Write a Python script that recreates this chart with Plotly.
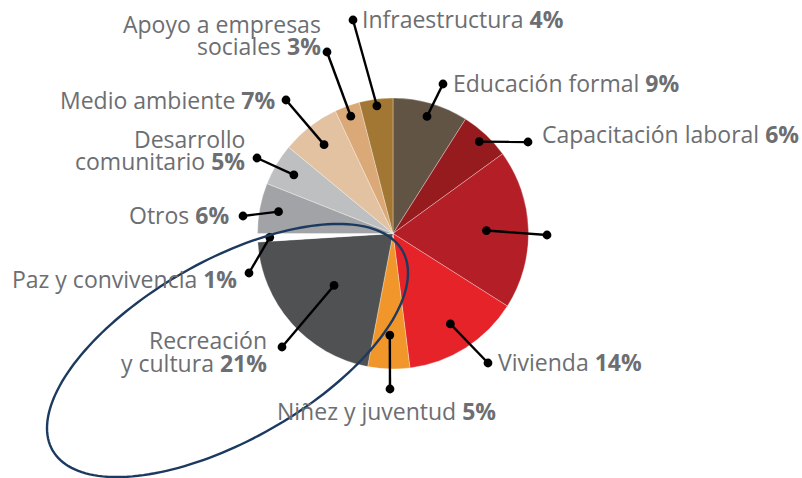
import numpy as np
import plotly.graph_objects as go

W, H = 802, 478

# ---------------- data ----------------
categories = ["Educación formal", "Capacitación laboral", "", "Vivienda",
              "Niñez y juventud", "Recreación\ny cultura", "Paz y convivencia",
              "Otros", "Desarrollo\ncomunitario", "Medio ambiente",
              "Apoyo a empresas\nsociales", "Infraestructura"]
shares = [9, 6, 19, 14, 5, 21, 1, 6, 5, 7, 3, 4]

# ---------------- style / layout ----------------
colors = ["#615444", "#961B1E", "#B41F27", "#E52329", "#F0962B", "#505153",
          "#FFFFFF", "#A1A3A6", "#BDBFC1", "#E3C2A2", "#DBA878", "#A27733"]
# pie geometry in pixels
CX, CY, R = 393.0, 233.5, 135.5
# radius fraction of the inner dot for each slice
inner_frac = [0.90, 0.93, 0.69, 0.79, 0.75, 0.58, 0.91, 0.86, 0.85, 0.83, 0.92, 0.95]
# outer dot position (px) for each slice
outer_pts = [(443, 84), (528, 142), (547, 235), (488, 363), (390, 389), (282, 347),
             (249, 273), (243, 216), (257, 158), (286, 100), (327, 52), (353, 20)]
# text anchor: (x px, y px of first line, xanchor)
text_pos = [(452, 83, "left"), (541, 134, "left"), None, (497, 362, "left"),
            (386, 411, "center"), (268, 340, "right"), (238, 279, "right"),
            (230, 215, "right"), (246, 139, "right"), (277, 100, "right"),
            (322, 24, "right"), (361, 19, "left")]
LINE_GAP = 22.5
TEXT_COLOR = "#6D6E71"
FONT = "Open Sans"
FSIZE = 23


def px(x):
    return x / W


def py(y):
    return 1 - y / H


fig = go.Figure(go.Pie(
    labels=[c.replace("\n", " ") if c else " " for c in categories],
    values=shares,
    sort=False,
    direction="clockwise",
    rotation=0,
    textinfo="none",
    hoverinfo="label+percent",
    marker=dict(colors=colors, line=dict(color="rgba(255,255,255,0.45)", width=0.7)),
    domain=dict(x=[px(CX - R), px(CX + R)], y=[py(CY + R), py(CY - R)]),
    showlegend=False,
))

shapes = []
annotations = []
total = float(sum(shares))
cum = 0.0
DOT = 4.4
for i, v in enumerate(shares):
    mid = (cum + v / 2.0) / total * 2 * np.pi
    cum += v
    r = R * inner_frac[i]
    ix, iy = CX + r * np.sin(mid), CY - r * np.cos(mid)
    ox, oy = outer_pts[i]
    shapes.append(dict(type="line", xref="paper", yref="paper",
                       x0=px(ix), y0=py(iy), x1=px(ox), y1=py(oy),
                       line=dict(color="black", width=2.4)))
    for (qx, qy) in [(ix, iy), (ox, oy)]:
        shapes.append(dict(type="circle", xref="paper", yref="paper",
                           x0=px(qx - DOT), x1=px(qx + DOT),
                           y0=py(qy - DOT), y1=py(qy + DOT),
                           fillcolor="black", line=dict(width=0)))
    if text_pos[i] is None or not categories[i]:
        continue
    tx, ty, anc = text_pos[i]
    lines = categories[i].split("\n")
    lines[-1] = f"{lines[-1]} <b>{v}%</b>"
    for k, ln in enumerate(lines):
        annotations.append(dict(xref="paper", yref="paper", x=px(tx), y=py(ty + k * LINE_GAP),
                                xanchor=anc, yanchor="middle", text=ln, showarrow=False,
                                borderpad=0, font=dict(family=FONT, size=FSIZE, color=TEXT_COLOR)))

# navy ellipse highlighting
ECX, ECY, EA, EB, EPHI = 227.5, 350.5, 201.4, 89.6, np.deg2rad(29.7)
t = np.linspace(0, 2 * np.pi, 181)
ex = ECX + EA * np.cos(t) * np.cos(EPHI) + EB * np.sin(t) * np.sin(EPHI)
ey = ECY - EA * np.cos(t) * np.sin(EPHI) + EB * np.sin(t) * np.cos(EPHI)
path = "M " + " L ".join(f"{px(a):.5f},{py(b):.5f}" for a, b in zip(ex, ey)) + " Z"
shapes.append(dict(type="path", xref="paper", yref="paper", path=path,
                   line=dict(color="#1C3A5F", width=2.4)))

fig.update_layout(width=W, height=H, margin=dict(l=0, r=0, t=0, b=0),
                  paper_bgcolor="white", plot_bgcolor="white",
                  shapes=shapes, annotations=annotations)

fig.write_html("out.html", config={"displayModeBar": False},
               post_script="document.body.style.margin='0';document.body.style.overflow='hidden';")
